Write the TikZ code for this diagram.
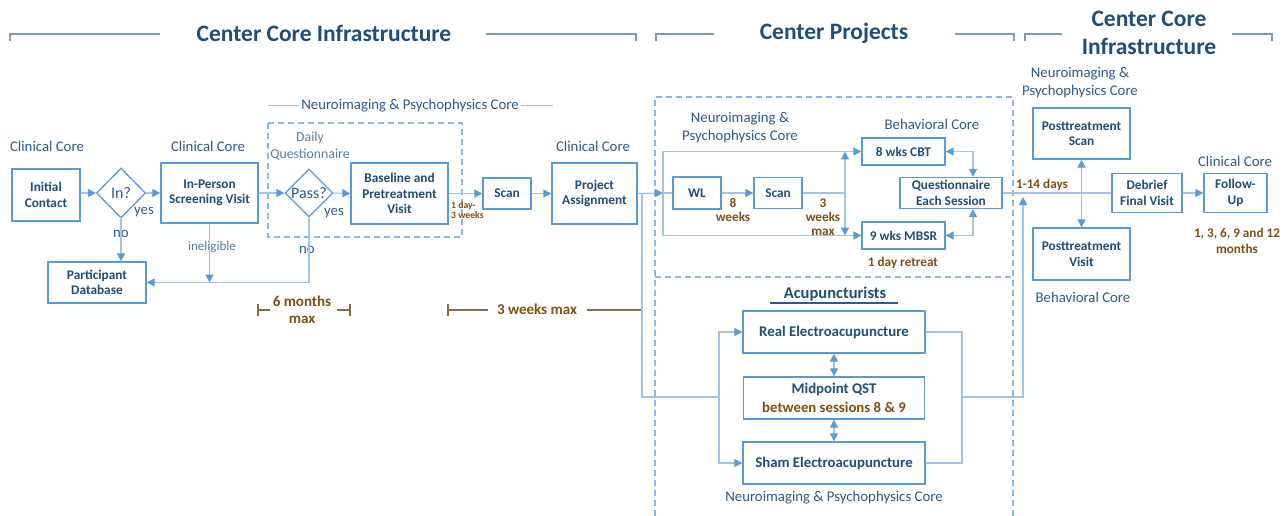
\documentclass[tikz,border=0pt]{standalone}
\usepackage{fontspec}
\setmainfont{Carlito}
\usetikzlibrary{arrows.meta,shapes.geometric}
\definecolor{boxc}{HTML}{5B9BD5}
\definecolor{linec}{HTML}{A2C4E6}
\definecolor{txtc}{HTML}{1F4E79}
\definecolor{lblc}{HTML}{2E5C8A}
\definecolor{lbll}{HTML}{5A7FA8}
\definecolor{brn}{HTML}{7F4F15}
\definecolor{brnl}{HTML}{8B6A4A}
\definecolor{hdrl}{HTML}{7D99BA}
\definecolor{dashc}{HTML}{8DB6E2}
\begin{document}
\begin{tikzpicture}[x=1pt,y=-1pt,
 bx/.style={draw=boxc,line width=1.3pt,fill=white,text=txtc,font=\fontsize{13.3}{15.5}\selectfont\bfseries,align=center,inner sep=0pt},
 bxa/.style={bx,font=\fontsize{14.8}{19}\selectfont\bfseries},
 dm/.style={diamond,draw=boxc,line width=1.3pt,fill=white,text=lblc,font=\fontsize{16}{18}\selectfont,inner sep=0pt},
 lbl/.style={text=lblc,font=\fontsize{14.8}{18}\selectfont,align=center,inner sep=0pt},
 brt/.style={text=brn,font=\fontsize{13.2}{16}\selectfont\bfseries,align=center,inner sep=0pt},
 hdr/.style={text=txtc,font=\fontsize{23.5}{28}\selectfont\bfseries,align=center,inner sep=0pt},
 con/.style={draw=linec,line width=1.2pt},
 arr/.style={con,-{Triangle[length=8pt,width=8pt,color=boxc]}},
 darr/.style={con,{Triangle[length=8pt,width=8pt,color=boxc]}-{Triangle[length=8pt,width=8pt,color=boxc]}},
 dsh/.style={draw=dashc,line width=1.2pt,dash pattern=on 6pt off 4pt},
 hl/.style={draw=hdrl,line width=1.5pt},
 tl/.style={draw=brnl,line width=1.2pt}
]
\useasboundingbox[fill=white] (0,0) rectangle (1288,516);

% headers
\draw[hl] (10,41) -- (10,34) -- (160,34);
\draw[hl] (486,34) -- (636,34) -- (636,41);
\node[hdr] (h1) at (324,33) {Center Core Infrastructure};
\draw[hl] (656,41) -- (656,34) -- (714,34);
\node[hdr] (h2) at (834,33) {Center Projects};
\draw[hl] (955,34) -- (1014,34) -- (1014,41);
\draw[hl] (1025,41) -- (1025,34) -- (1062,34);
\node[hdr] (h3) at (1149,33) {Center Core\\Infrastructure};
\draw[hl] (1232,34) -- (1272,34) -- (1272,41);

% dashed frames
\draw[dsh] (268,123) rectangle (462,237);
\draw[dsh] (655,516) -- (655,97) -- (1013,97) -- (1013,516);
\draw[dsh] (655,277) -- (1013,277);

% neuroimaging line label
\draw[draw=linec,line width=1pt] (268,106) -- (553,106);
\node[lbl,fill=white,inner xsep=2pt] (l10) at (410,106) {Neuroimaging \& Psychophysics Core};

% labels
\node[lbl] (l1) at (47,146) {Clinical Core};
\node[lbl] (l2) at (208,146) {Clinical Core};
\node[lbl] (l3) at (593,146) {Clinical Core};
\node[lbl] (l4) at (1235,161) {Clinical Core};
\node[lbl] (l5) at (740,128) {Neuroimaging \&\\Psychophysics Core};
\node[lbl] (l6) at (932,124) {Behavioral Core};
\node[lbl] (l7) at (1080,83) {Neuroimaging \&\\Psychophysics Core};
\node[lbl] (l8) at (1083,297) {Behavioral Core};
\node[lbl] (l9) at (834,498) {Neuroimaging \& Psychophysics Core};
\node[lbl,text=lbll,font=\fontsize{13.8}{17}\selectfont] (l11) at (310,146.5) {Daily\\Questionnaire};
\node[lbl] (y1) at (144,212) {yes};
\node[lbl] (n1) at (121,234) {no};
\node[lbl,text=lbll,font=\fontsize{13.1}{15}\selectfont] (ie) at (212,247) {ineligible};
\node[lbl] (y2) at (334,213) {yes};
\node[lbl] (n2) at (307,250) {no};

% brown notes
\node[brt,font=\fontsize{9.7}{10.5}\selectfont\bfseries,align=left,anchor=west] (d1) at (451,210) {1 day-\\3 weeks};
\node[brt,font=\fontsize{13.2}{14}\selectfont\bfseries] (w8) at (733,210) {8\\weeks};
\node[brt,font=\fontsize{13.2}{14}\selectfont\bfseries] (w3) at (823,217) {3\\weeks\\max};
\node[brt] (rt) at (903,263) {1 day retreat};
\node[brt,font=\fontsize{15}{17}\selectfont\bfseries] (m6) at (302,309.5) {6 months\\max};
\node[brt,font=\fontsize{15}{17}\selectfont\bfseries] (w3m) at (537,309) {3 weeks max};
\node[brt] (d14) at (1042,185) {1-14 days};
\node[brt] (fu) at (1237,241) {1, 3, 6, 9 and 12\\months};

% timelines
\draw[tl] (258,304) -- (258,316);
\draw[tl] (258,310) -- (270,310);
\draw[tl] (337,310) -- (350,310);
\draw[tl] (350,304) -- (350,316);
\draw[tl] (448,304) -- (448,316);
\draw[tl] (448,310) -- (488,310);
\draw[tl] (587,310) -- (642,310);
\draw[tl] (642,304) -- (642,316);

% boxes
\node[bx,minimum width=68pt,minimum height=52pt] (init) at (46,195) {Initial\\Contact};
\node[dm,minimum width=49pt,minimum height=50pt] (in) at (121,193) {In?};
\node[bx,minimum width=98pt,minimum height=41pt] (db) at (97,282.5) {Participant\\Database};
\node[bx,minimum width=97pt,minimum height=60pt] (screen) at (209.5,193) {In-Person\\Screening Visit};
\node[dm,minimum width=48pt,minimum height=48pt] (pass) at (309,193) {Pass?};
\node[bx,minimum width=97pt,minimum height=61pt] (base) at (399.5,193.5) {Baseline and\\Pretreatment\\Visit};
\node[bx,minimum width=48pt,minimum height=31pt] (scan1) at (507,193.5) {Scan};
\node[bx,minimum width=85pt,minimum height=61pt] (proj) at (594.5,193.5) {Project\\Assignment};
\node[bx,minimum width=48pt,minimum height=32pt] (wl) at (697,193) {WL};
\node[bx,minimum width=48pt,minimum height=31pt] (scan2) at (778,193) {Scan};
\node[bx,minimum width=83pt,minimum height=27pt] (cbt) at (903.5,151.5) {8 wks CBT};
\node[bx,minimum width=83pt,minimum height=27pt] (mbsr) at (903.5,235.5) {9 wks MBSR};
\node[bx,minimum width=102pt,minimum height=31pt] (quest) at (951,193) {Questionnaire\\Each Session};
\node[bx,minimum width=97pt,minimum height=51pt] (pscan) at (1081.5,133.5) {Posttreatment\\Scan};
\node[bx,minimum width=97pt,minimum height=52pt] (pvisit) at (1081.5,254) {Posttreatment\\Visit};
\node[bx,minimum width=70pt,minimum height=39pt] (debrief) at (1147,193) {Debrief\\Final Visit};
\node[bx,minimum width=63pt,minimum height=39pt] (follow) at (1235.5,193) {Follow-\\Up};
\node[text=txtc,font=\fontsize{16.5}{18}\selectfont\bfseries,inner sep=0pt] (ac) at (835,294) {Acupuncturists};
\draw[draw=lblc,line width=1.2pt] (770,303) -- (898,303);
\node[bxa,minimum width=182pt,minimum height=42pt] (real) at (834,332) {Real Electroacupuncture};
\node[bxa,minimum width=181pt,minimum height=42pt] (mid) at (834,398) {Midpoint QST\\\textcolor{brn}{between sessions 8 \& 9}};
\node[bxa,minimum width=182pt,minimum height=42pt] (sham) at (834,463) {Sham Electroacupuncture};

% coordinates
\coordinate (wlin) at (663,193);
\coordinate (sp) at (642,193);
\coordinate (acuL) at (719,397);
\coordinate (acuR) at (962,397);
\coordinate (up) at (1023,197);
\coordinate (tw) at (845,193);

% connectors
\draw[arr] (init.east |- in.west) -- (in.west);
\draw[arr] (in.east) -- (screen.west);
\draw[arr] (in.south) -- (in.south |- db.north);
\draw[arr] (screen.south) -- (screen.south |- db.east);
\draw[arr] (pass.south) -- (pass.south |- db.east) -- (db.east);
\draw[arr] (screen.east) -- (pass.west);
\draw[arr] (pass.east) -- (base.west);
\draw[arr] (base.east) -- (scan1.west);
\draw[arr] (scan1.east) -- (proj.west);
\draw[arr] (proj.east) -- (wlin);
\draw[con] (wlin) -- (wl.west);
\draw[arr] (wlin) |- (cbt.west);
\draw[arr] (wlin) |- (mbsr.west);
\draw[arr] (wl.east) -- (scan2.west);
\draw[con] (scan2.east) -- (tw);
\draw[arr] (tw) -- (tw |- cbt.west);
\draw[arr] (tw) -- (tw |- mbsr.west);
\draw[darr] (cbt.east) -| ([xshift=22pt]quest.north);
\draw[darr] (mbsr.east) -| ([xshift=22pt]quest.south);
\draw[con] (quest.east) -- (debrief.west);
\draw[darr] (pscan.south) -- (pvisit.north);
\draw[arr] (debrief.east) -- (follow.west);
\draw[con] (sp) |- (acuL);
\draw[arr] (acuL) |- (real.west);
\draw[arr] (acuL) |- (sham.west);
\draw[con] (real.east) -| (acuR);
\draw[con] (sham.east) -| (acuR);
\draw[arr] (acuR) -| (up);
\draw[darr] (real.south) -- (mid.north);
\draw[darr] (mid.south) -- (sham.north);
\end{tikzpicture}
\end{document}
